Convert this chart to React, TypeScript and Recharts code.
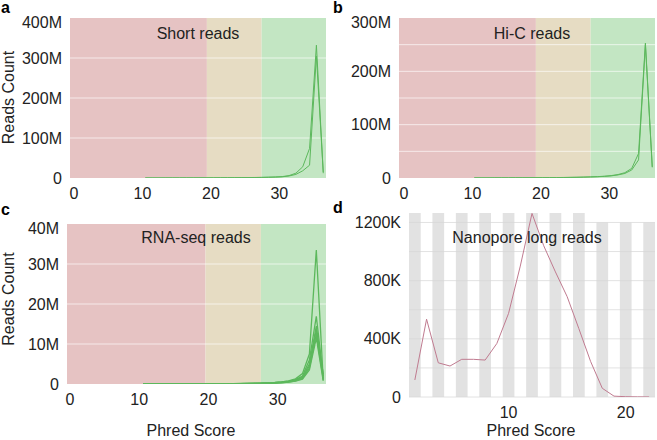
import React from 'react';
import { LineChart, Line, XAxis, YAxis, ReferenceArea, ReferenceLine } from 'recharts';

// ---------- data ----------
const phredIllumina = [11, 12, 13, 14, 15, 16, 17, 18, 19, 20, 21, 22, 23, 24, 25, 26, 27, 28, 29, 30, 31, 32, 33, 34, 35, 36, 37];

// Short reads (millions)
const shortRun1 = [0.1, 0.1, 0.1, 0.2, 0.2, 0.2, 0.3, 0.3, 0.4, 0.4, 0.5, 0.6, 0.7, 0.8, 0.9, 1.1, 1.3, 1.6, 2.0, 2.6, 3.5, 6.0, 12, 28, 74, 332, 12];
const shortRun2 = [0.1, 0.1, 0.1, 0.2, 0.2, 0.2, 0.3, 0.3, 0.3, 0.4, 0.4, 0.5, 0.6, 0.7, 0.8, 1.0, 1.2, 1.4, 1.8, 2.2, 3.0, 5.0, 9, 18, 32, 305, 15];

// Hi-C reads (millions)
const hicRun1 = [0.2, 0.2, 0.2, 0.3, 0.3, 0.3, 0.4, 0.4, 0.5, 0.5, 0.6, 0.7, 0.8, 1.0, 1.2, 1.4, 1.7, 2.1, 2.6, 3.3, 4.5, 6.5, 10, 18, 46, 253, 21];
const hicRun2 = [0.2, 0.2, 0.2, 0.3, 0.3, 0.3, 0.4, 0.4, 0.4, 0.5, 0.5, 0.6, 0.7, 0.9, 1.1, 1.3, 1.6, 2.0, 2.4, 3.0, 4.0, 5.8, 8.5, 15, 34, 250, 20];

// RNA-seq reads (millions)
const rnaRun1 = [0.02, 0.02, 0.02, 0.03, 0.03, 0.03, 0.04, 0.04, 0.05, 0.05, 0.06, 0.07, 0.08, 0.1, 0.12, 0.15, 0.18, 0.22, 0.3, 0.4, 0.55, 0.8, 1.3, 2.6, 7.5, 33.5, 1.0];
const rnaRun2 = [0.02, 0.02, 0.02, 0.02, 0.03, 0.03, 0.03, 0.04, 0.04, 0.05, 0.05, 0.06, 0.07, 0.09, 0.11, 0.13, 0.16, 0.2, 0.26, 0.35, 0.5, 0.7, 1.1, 2.0, 6.0, 16.9, 2.0];
const rnaRun3 = [0.01, 0.01, 0.02, 0.02, 0.02, 0.03, 0.03, 0.03, 0.04, 0.04, 0.05, 0.05, 0.06, 0.08, 0.1, 0.12, 0.15, 0.18, 0.24, 0.32, 0.45, 0.65, 1.0, 1.8, 5.0, 14.5, 1.5];
const rnaRun4 = [0.01, 0.01, 0.01, 0.02, 0.02, 0.02, 0.03, 0.03, 0.03, 0.04, 0.04, 0.05, 0.06, 0.07, 0.09, 0.11, 0.13, 0.16, 0.21, 0.28, 0.4, 0.6, 0.9, 1.6, 4.5, 13.5, 2.5];
const rnaRun5 = [0.01, 0.01, 0.01, 0.01, 0.02, 0.02, 0.02, 0.03, 0.03, 0.03, 0.04, 0.04, 0.05, 0.06, 0.08, 0.1, 0.12, 0.15, 0.19, 0.25, 0.35, 0.5, 0.8, 1.4, 4.0, 12.5, 1.2];
const rnaRun6 = [0.01, 0.01, 0.01, 0.01, 0.01, 0.02, 0.02, 0.02, 0.03, 0.03, 0.03, 0.04, 0.05, 0.06, 0.07, 0.09, 0.11, 0.14, 0.17, 0.22, 0.3, 0.45, 0.7, 1.2, 3.5, 11.5, 0.8];

// Nanopore long reads
const phredNanopore = [2, 3, 4, 5, 6, 7, 8, 9, 10, 11, 12, 13, 14, 15, 16, 17, 18, 19, 20, 21, 22];
const nanoporeReads = [117000, 535000, 235000, 213000, 259000, 259000, 254000, 368000, 575000, 900000, 1262000, 1040000, 860000, 690000, 470000, 245000, 60000, 6000, 2000, 1000, 500];

// ---------- axis / band values ----------
const illuminaTicks = [0, 10, 20, 30];
const qualityEdges = [0, 20, 28, 37.4];
const shortTicks = [0, 100, 200, 300, 400];
const hicTicks = [0, 50, 100, 150, 200, 250, 300];
const rnaTicks = [0, 10, 20, 30, 40];
const nanoXTicks = [10, 20];
const nanoYTicks = [0, 200000, 400000, 600000, 800000, 1000000, 1200000];
const nanoYMax = 1265000;
const nanoStripeCenters = [2, 4, 6, 8, 10, 12, 14, 16, 18, 20, 22];

// ---------- styles ----------
const FONT = '"Liberation Sans", Arial, Helvetica, sans-serif';
const TEXT = '#222';
const BAND_COLORS = ['#e6c3c3', '#e6dcc3', '#c3e6c3'];
const GREEN = '#5cb85c';
const NANO_LINE = '#c07b90';
const STRIPE = '#e2e2e2';

const toRows = (xs: number[], series: number[][]) =>
  xs.map((q, i) => {
    const row: Record<string, number> = { q };
    series.forEach((s, j) => (row['s' + j] = s[i]));
    return row;
  });

const makeYTick = (max: number, step: number, suffix: string, scale = 1) => (props: any) => {
  const { x, y, payload } = props;
  const v = payload.value;
  if (Math.abs(v / step - Math.round(v / step)) > 1e-6) return <g />;
  const shift = v === max ? 4.5 : 0;
  const label = v === 0 ? '0' : `${v / scale}${suffix}`;
  return (
    <text x={x} y={y + shift} dy={5.6} textAnchor="end" fontSize={16} fontFamily={FONT} fill={TEXT}>
      {label}
    </text>
  );
};

const makeXTick = (shift: number) => (props: any) => {
  const { x, y, payload } = props;
  return (
    <text x={x + shift} y={y} dy={13} textAnchor="middle" fontSize={16} fontFamily={FONT} fill={TEXT}>
      {payload.value}
    </text>
  );
};

type IlluminaProps = {
  left: number;
  top: number;
  width: number;
  height: number;
  margin: { top: number; right: number; bottom: number; left: number };
  yWidth: number;
  series: number[][];
  yTicks: number[];
  labelStep: number;
  strokeWidth: number;
  xShift: number;
};

function IlluminaPanel(p: IlluminaProps) {
  const data = toRows(phredIllumina, p.series);
  const yMax = p.yTicks[p.yTicks.length - 1];
  const gridValues = p.yTicks.filter((v) => v > 0 && v < yMax);
  return (
    <div style={{ position: 'absolute', left: p.left, top: p.top }}>
      <LineChart width={p.width} height={p.height} data={data} margin={p.margin}>
        <XAxis
          dataKey="q"
          type="number"
          domain={[qualityEdges[0], qualityEdges[qualityEdges.length - 1]]}
          ticks={illuminaTicks}
          allowDataOverflow
          axisLine={false}
          tickLine={false}
          height={22}
          tick={makeXTick(p.xShift)}
          interval={0}
        />
        <YAxis
          type="number"
          domain={[0, yMax]}
          ticks={p.yTicks}
          width={p.yWidth}
          axisLine={false}
          tickLine={false}
          interval={0}
          tick={makeYTick(yMax, p.labelStep, 'M')}
          allowDataOverflow
        />
        {BAND_COLORS.map((c, i) => (
          <ReferenceArea
            key={'band' + i}
            x1={qualityEdges[i]}
            x2={qualityEdges[i + 1]}
            y1={0}
            y2={yMax}
            fill={c}
            fillOpacity={1}
            stroke="none"
            ifOverflow="hidden"
          />
        ))}
        {gridValues.map((v) => (
          <ReferenceLine key={'g' + v} y={v} stroke="#ffffff" strokeOpacity={0.65} strokeWidth={1} />
        ))}
        {p.series.map((_, j) => (
          <Line
            key={'s' + j}
            dataKey={'s' + j}
            type="linear"
            stroke={GREEN}
            strokeWidth={p.strokeWidth}
            dot={false}
            isAnimationActive={false}
          />
        ))}
      </LineChart>
    </div>
  );
}

function NanoporePanel() {
  const data = nanoporeReads.map((v, i) => ({ q: phredNanopore[i], v }));
  return (
    <div style={{ position: 'absolute', left: 327, top: 200 }}>
      <LineChart width={330} height={226} data={data} margin={{ top: 13, right: 2, bottom: 7, left: 0 }}>
        <XAxis
          dataKey="q"
          type="number"
          domain={[1.5, 22.5]}
          ticks={nanoXTicks}
          axisLine={false}
          tickLine={false}
          height={22}
          tick={makeXTick(0)}
          interval={0}
        />
        <YAxis
          type="number"
          domain={[0, nanoYMax]}
          ticks={nanoYTicks}
          width={82}
          axisLine={false}
          tickLine={false}
          interval={0}
          tick={makeYTick(-1, 400000, 'K', 1000)}
          allowDataOverflow
        />
        {nanoStripeCenters.map((c) => (
          <ReferenceArea
            key={'st' + c}
            x1={c - 0.5}
            x2={c + 0.5}
            y1={0}
            y2={c >= 18 ? 1200000 : nanoYMax}
            fill={STRIPE}
            fillOpacity={1}
            stroke="none"
            ifOverflow="hidden"
          />
        ))}
        {nanoYTicks.map((v) => (
          <ReferenceLine key={'g' + v} y={v} stroke="#d6d6d6" strokeOpacity={0.7} strokeWidth={1} />
        ))}
        <Line dataKey="v" type="linear" stroke={NANO_LINE} strokeWidth={1} dot={false} isAnimationActive={false} />
      </LineChart>
    </div>
  );
}

export default function App() {
  return (
    <div
      style={{
        position: 'absolute',
        left: 0,
        top: 0,
        width: 657,
        height: 440,
        background: '#fff',
        overflow: 'hidden',
        fontFamily: FONT,
      }}
    >
      <IlluminaPanel
        left={0}
        top={0}
        width={330}
        height={207}
        margin={{ top: 18, right: 4, bottom: 7, left: 0 }}
        yWidth={70}
        series={[shortRun1, shortRun2]}
        yTicks={shortTicks}
        labelStep={100}
        strokeWidth={1}
        xShift={4}
      />
      <IlluminaPanel
        left={327}
        top={0}
        width={330}
        height={207}
        margin={{ top: 18, right: 2, bottom: 7, left: 0 }}
        yWidth={72}
        series={[hicRun1, hicRun2]}
        yTicks={hicTicks}
        labelStep={100}
        strokeWidth={1}
        xShift={5}
      />
      <IlluminaPanel
        left={0}
        top={200}
        width={330}
        height={213}
        margin={{ top: 24, right: 4, bottom: 7, left: 0 }}
        yWidth={67}
        series={[rnaRun1, rnaRun2, rnaRun3, rnaRun4, rnaRun5, rnaRun6]}
        yTicks={rnaTicks}
        labelStep={10}
        strokeWidth={1.3}
        xShift={3}
      />
      <NanoporePanel />
      <svg
        width={657}
        height={440}
        style={{ position: 'absolute', left: 0, top: 0, pointerEvents: 'none' }}
        fontFamily={FONT}
      >
        <g fontWeight="bold" fontSize={16} fill="#000">
          <text x={1} y={13}>a</text>
          <text x={333} y={13}>b</text>
          <text x={1} y={215}>c</text>
          <text x={333} y={213}>d</text>
        </g>
        <g fontSize={16} fill={TEXT} textAnchor="middle">
          <text x={198} y={39}>Short reads</text>
          <text x={532} y={38.5}>Hi-C reads</text>
          <text x={196} y={243}>RNA-seq reads</text>
          <text x={527} y={243}>Nanopore long reads</text>
          <text x={191} y={436}>Phred Score</text>
          <text x={531} y={436}>Phred Score</text>
          <text transform="translate(13.5,97.5) rotate(-90)">Reads Count</text>
          <text transform="translate(13.5,299) rotate(-90)">Reads Count</text>
        </g>
      </svg>
    </div>
  );
}
